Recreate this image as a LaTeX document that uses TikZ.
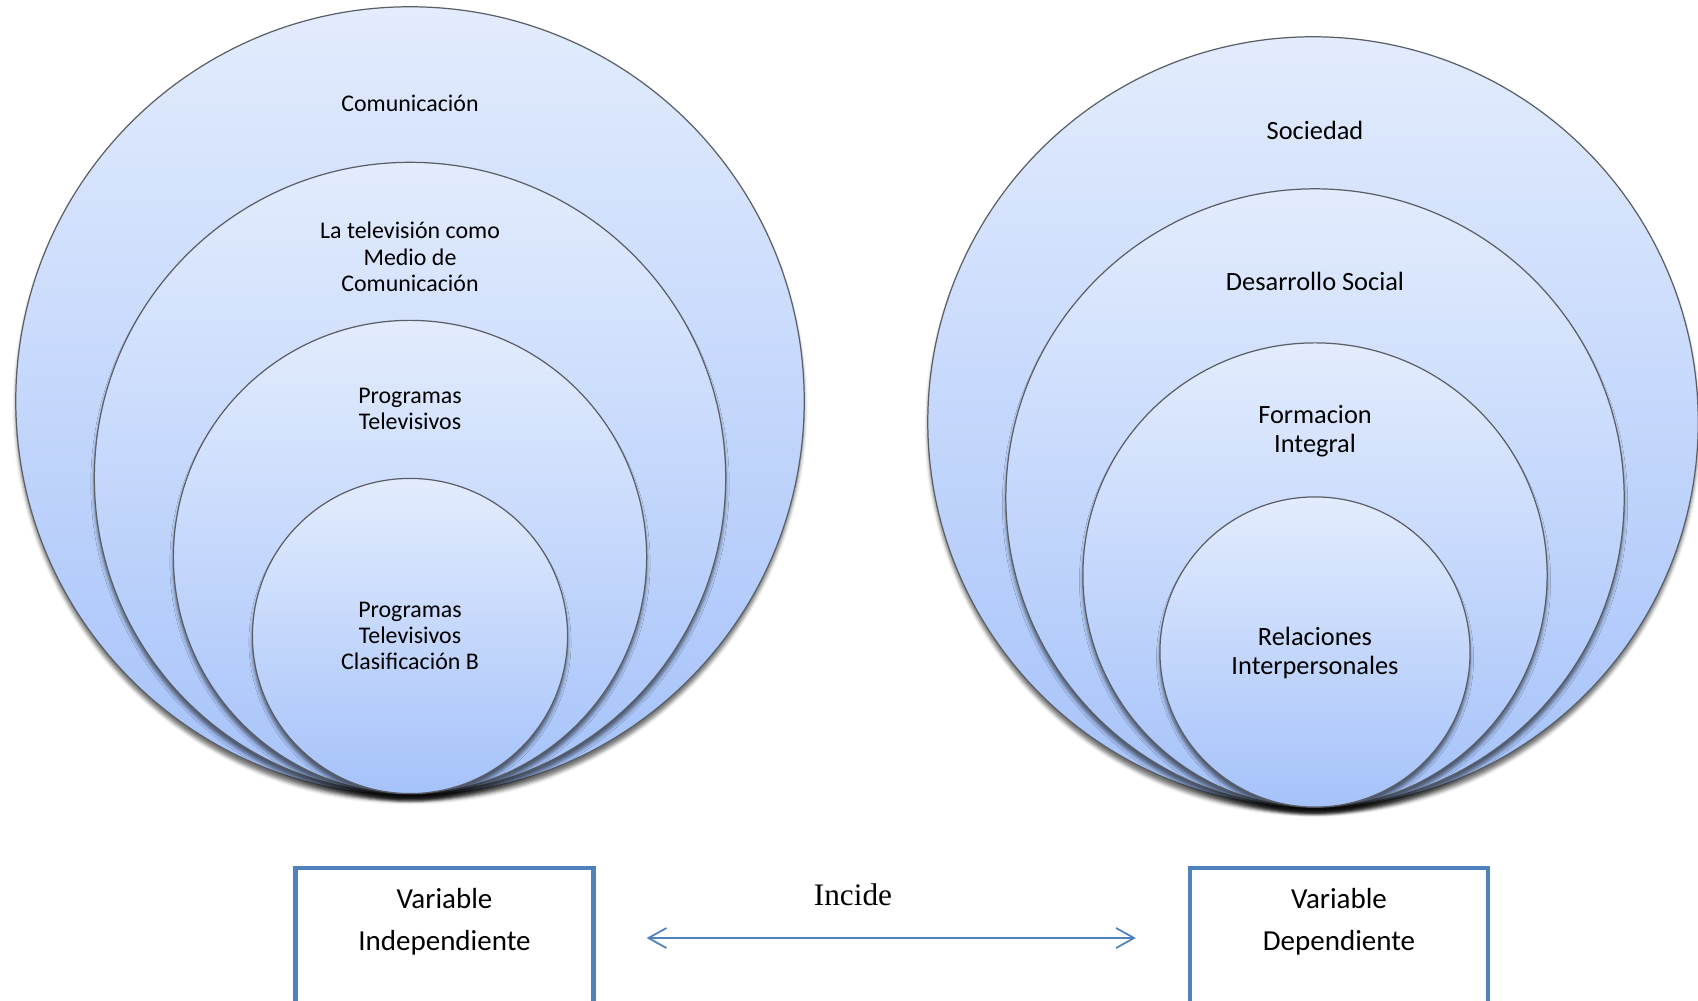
\documentclass[tikz,border=0pt]{standalone}
\usepackage{fontspec}
\newfontfamily\calibri{Carlito}
\newfontfamily\timesf{Liberation Serif}
\usetikzlibrary{
    arrows.meta,
    positioning,
    shadows.blur
}
\definecolor{ringtop}{HTML}{E3ECFD}
\definecolor{ringbot}{HTML}{A5C2FA}
\definecolor{ringline}{HTML}{5A5F66}
\definecolor{boxblue}{HTML}{4F81BD}
\tikzset{
    every picture/.style = {
        x = 0.01cm,
        y = -0.01cm
    },
    ring/.style = {
        circle,
        draw = ringline,
        line width = 0.35pt,
        top color = ringtop,
        bottom color = ringbot,
        inner sep = 0pt,
        minimum size = #1,
        blur shadow = {shadow xshift = 0pt, shadow yshift = -0.6mm,
                       shadow blur radius = 0.35mm, shadow opacity = 55}
    },
    lefttext/.style = {
        font = \calibri\fontsize{6.8}{7.5}\selectfont,
        align = center
    },
    righttext/.style = {
        font = \calibri\fontsize{7.5}{8.2}\selectfont,
        align = center
    },
    varbox/.style = {
        draw = boxblue,
        line width = 1.28pt,
        minimum width = 2.975cm,
        minimum height = 1.4cm,
        inner sep = 0pt
    },
    vartext/.style = {
        font = \calibri\fontsize{8.25}{11.7}\selectfont,
        align = center
    },
    biarrow/.style = {
        draw = boxblue,
        line width = 0.5pt,
        {Straight Barb[length = 0.18cm, width = 0.2cm]}-{Straight Barb[length = 0.18cm, width = 0.2cm]}
    }
}

\begin{document}
\begin{tikzpicture}
    \useasboundingbox (0, 0) rectangle (1698, 1000);

    % independent variable
    \node[ring = 7.88cm] (com) at (410, 401) {};
    \node[ring = 6.31cm] (tv) at (410, 478) {};
    \node[ring = 4.73cm] (prog) at (410, 557) {};
    \node[ring = 3.15cm] (progb) at (410, 636) {};

    \node[lefttext] (comt) at (410, 103) {Comunicación};
    \node[lefttext] (tvt) at (410, 257) {La televisión como \\ Medio de \\ Comunicación};
    \node[lefttext] (progt) at (410, 409) {Programas \\ Televisivos};
    \node[lefttext] (progbt) at (410, 636) {Programas \\ Televisivos \\ Clasificación B};

    % dependent variable
    \node[ring = 7.70cm] (soc) at (1313, 422) {};
    \node[ring = 6.18cm] (des) at (1315, 498) {};
    \node[ring = 4.64cm] (form) at (1315, 575) {};
    \node[ring = 3.10cm] (rel) at (1315, 652) {};

    \node[righttext] (soct) at (1315, 130) {Sociedad};
    \node[righttext] (dest) at (1315, 281) {Desarrollo Social};
    \node[righttext] (formt) at (1315, 431) {Formacion \\ Integral};
    \node[righttext] (relt) at (1315, 653) {Relaciones \\ Interpersonales};

    % variables
    \node[varbox] (lbox) at (444.5, 938) {};
    \node[varbox] (rbox) at (1339, 938) {};
    \node[vartext] (lboxt) at ([yshift = -0.56cm] lbox.north) {Variable \\ Independiente};
    \node[vartext] (rboxt) at ([yshift = -0.56cm] rbox.north) {Variable \\ Dependiente};

    \node[font = \timesf\fontsize{8.9}{10}\selectfont] (inc) at (853, 895) {Incide};
    \path[biarrow] ([xshift = 0.51cm] lbox.east) -- ([xshift = -0.52cm] rbox.west);
\end{tikzpicture}
\end{document}
